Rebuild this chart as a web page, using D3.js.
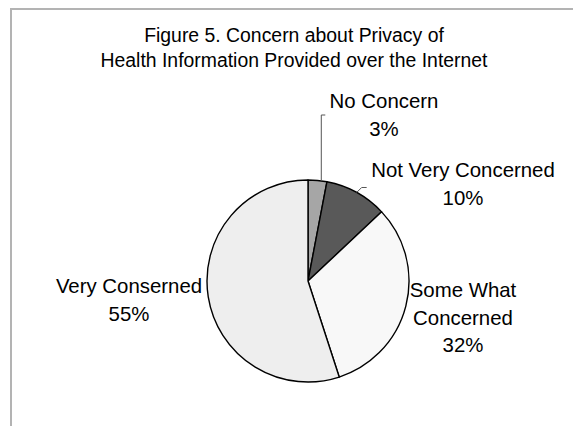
<!DOCTYPE html>
<html>
<head>
<meta charset="utf-8">
<script src="https://cdn.jsdelivr.net/npm/d3@7"></script>
<style>
  body { margin: 0; background: #fff; }
  text { font-family: "Liberation Sans", Arial, sans-serif; font-size: 20.4px; fill: #000; }
  text.title { font-size: 19.4px; }
</style>
</head>
<body>
<script>
// pie data, clockwise from 12 o'clock
var categories = ["No Concern", "Not Very Concerned", "Some What Concerned", "Very Conserned"];
var shares = [3, 10, 32, 55];
var labelLines = [["No Concern", "3%"], ["Not Very Concerned", "10%"], ["Some What", "Concerned", "32%"], ["Very Conserned", "55%"]];
var titleLines = ["Figure 5. Concern about Privacy of", "Health Information Provided over the Internet"];

// layout
var width = 573, height = 426;
var cx = 308, cy = 281, radius = 101;
var fills = ["#a6a6a6", "#595959", "#f8f8f8", "#eeeeee"];
var labelAt = [[384, 108], [463, 177], [463, 297], [129, 293]]; // first baseline, centre
var lineGap = 27.5;

var svg = d3.select("body").append("svg")
    .attr("width", width)
    .attr("height", height);

// chart frame, runs off the right and bottom
svg.append("rect")
    .attr("x", 11).attr("y", 9)
    .attr("width", 700).attr("height", 600)
    .style("fill", "none")
    .style("stroke", "#b3b3b3")
    .style("stroke-width", 2);

svg.append("g").selectAll("text")
    .data(titleLines)
    .enter().append("text")
    .attr("class", "title")
    .attr("x", 294)
    .attr("y", function(d, i){ return 42 + i * 24.5; })
    .attr("text-anchor", "middle")
    .text(function(d){ return d; });

var pie = d3.pie().sort(null).value(function(d){ return d; });
var arc = d3.arc().innerRadius(0).outerRadius(radius);
var slices = pie(shares);

var g = svg.append("g").attr("transform", "translate(" + cx + "," + cy + ")");

g.selectAll("path")
    .data(slices)
    .enter().append("path")
    .attr("d", arc)
    .style("fill", function(d, i){ return fills[i]; })
    .style("stroke", "#000")
    .style("stroke-width", 1.4)
    .style("stroke-linejoin", "round");

// leader lines for the two small slices
function edgePoint(d, k){
  var a = d.startAngle + (d.endAngle - d.startAngle) * k;
  return [cx + radius * Math.sin(a), cy - radius * Math.cos(a)];
}
var p0 = edgePoint(slices[0], 0.7);
var p1 = edgePoint(slices[1], 0.5);
var line = d3.line();
svg.append("path")
    .attr("d", line([[p0[0] + 4, 115], [p0[0], 115], [p0[0], p0[1]]]))
    .style("fill", "none").style("stroke", "#555").style("stroke-width", 1);
svg.append("path")
    .attr("d", line([[p1[0], p1[1]], [p1[0] + 5, p1[1] - 5], [p1[0] + 10, p1[1] - 5]]))
    .style("fill", "none").style("stroke", "#555").style("stroke-width", 1);

// data labels
labelLines.forEach(function(lines, i){
  svg.append("g").selectAll("text")
      .data(lines)
      .enter().append("text")
      .attr("x", labelAt[i][0])
      .attr("y", function(d, k){ return labelAt[i][1] + k * lineGap; })
      .attr("text-anchor", "middle")
      .text(function(d){ return d; });
});
</script>
</body>
</html>
